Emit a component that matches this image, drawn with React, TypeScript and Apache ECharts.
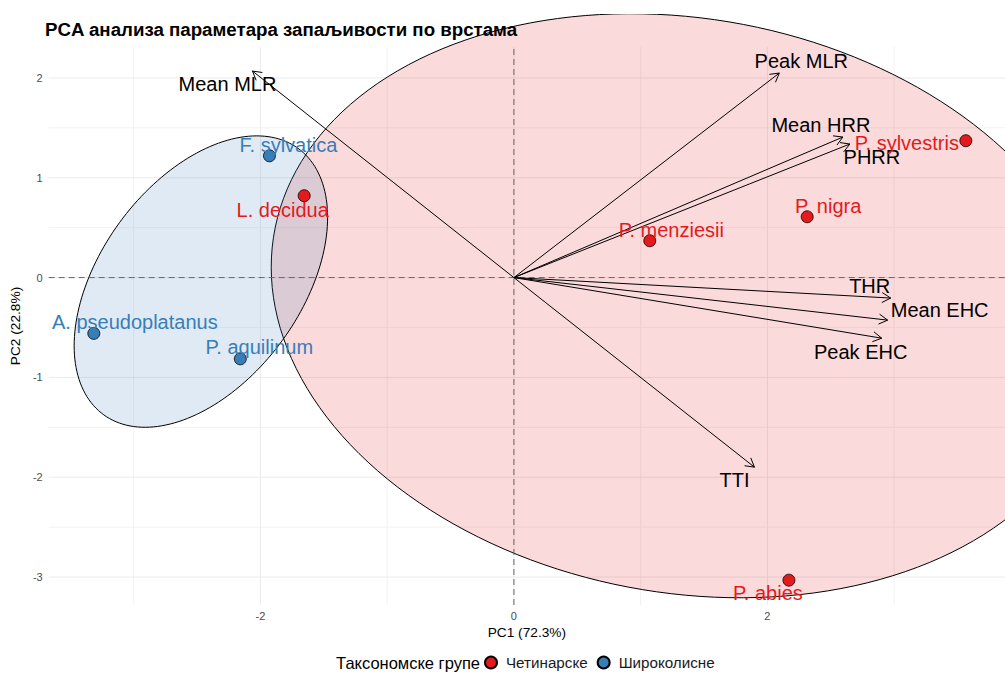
import React, { useEffect, useRef } from "react";
import * as echarts from "echarts";

const chartTitle = "PCA анализа параметара запаљивости по врстама";
const xAxisTitle = "PC1 (72.3%)";
const yAxisTitle = "PC2 (22.8%)";
const legendTitle = "Таксономске групе";
const groupNames = ["Четинарске", "Широколисне"];
const groupColors = ["#E41A1C", "#377EB8"];
const groupFills = ["rgba(228,26,28,0.16)", "rgba(55,126,184,0.16)"];

// Scores (species)
const coniferNames = ["P. sylvestris", "P. nigra", "P. menziesii", "L. decidua", "P. abies"];
const coniferPC1 = [3.566, 2.314, 1.072, -1.655, 2.17];
const coniferPC2 = [1.371, 0.609, 0.369, 0.82, -3.031];
const broadleafNames = ["F. sylvatica", "A. pseudoplatanus", "P. aquilinum"];
const broadleafPC1 = [-1.929, -3.315, -2.159];
const broadleafPC2 = [1.22, -0.559, -0.814];

// Loadings (variables)
const variableNames = ["Mean MLR", "Peak MLR", "Mean HRR", "PHRR", "THR", "Mean EHC", "Peak EHC", "TTI"];
const loadingPC1 = [-2.063, 2.094, 2.596, 2.651, 2.973, 2.949, 2.902, 1.898];
const loadingPC2 = [2.069, 2.049, 1.408, 1.338, -0.205, -0.426, -0.607, -1.899];

// Group ellipses: centre and two conjugate semi-diameters (data units)
const coniferEllipseCenter = [1.355, -0.282];
const coniferEllipseU = [3.27, -0.386];
const coniferEllipseV = [0, 2.9];
const broadleafEllipseCenter = [-2.47, -0.04];
const broadleafEllipseU = [1.0, 0.644];
const broadleafEllipseV = [0, 1.31];

// Axes
const xMin = -3.671;
const xMax = 3.875;
const yMin = -3.28;
const yMax = 2.31;
const xTicks = [-2, 0, 2];
const yTicks = [-3, -2, -1, 0, 1, 2];
const xMajorGrid = [-2, 0, 2];
const xMinorGrid = [-3, -1, 1, 3];
const yMajorGrid = [-3, -2, -1, 0, 1, 2];
const yMinorGrid = [-2.5, -1.5, -0.5, 0.5, 1.5];

// Label offsets in pixels (repelled label placement)
const coniferLabelOffsets = [[-59, 2], [21, -11], [21.5, -11], [-21.5, 14.5], [-21, 13]];
const broadleafLabelOffsets = [[19, -11], [41, -11], [19, -11.7]];
const variableLabelOffsets = [[-25, 13], [22, -12], [-22, -12.5], [22, 13], [-21, -12], [52, -10.5], [-21, 13.5], [-20, 13]];

const FONT = '"Liberation Sans", Arial, sans-serif';

function ellipseSeries(center: number[], u: number[], v: number[], fill: string, z: number) {
  return {
    type: "custom",
    coordinateSystem: "cartesian2d",
    silent: true,
    clip: false,
    z,
    data: [[center[0], center[1]]],
    renderItem: (params: any, api: any) => {
      const pts: number[][] = [];
      const n = 180;
      for (let i = 0; i < n; i++) {
        const t = (i / n) * Math.PI * 2;
        const x = center[0] + u[0] * Math.cos(t) + v[0] * Math.sin(t);
        const y = center[1] + u[1] * Math.cos(t) + v[1] * Math.sin(t);
        pts.push(api.coord([x, y]));
      }
      return {
        type: "polygon",
        shape: { points: pts },
        style: { fill, stroke: "#000", lineWidth: 1 },
      };
    },
  };
}

function gridSeries(values: number[], vertical: boolean, color: string, width: number, dash: any, z: number) {
  return {
    type: "custom",
    coordinateSystem: "cartesian2d",
    silent: true,
    clip: false,
    z,
    data: values.map((v) => (vertical ? [v, 0] : [0, v])),
    renderItem: (params: any, api: any) => {
      const v = vertical ? api.value(0) : api.value(1);
      const p1 = vertical ? api.coord([v, yMin]) : api.coord([xMin, v]);
      const p2 = vertical ? api.coord([v, yMax]) : api.coord([xMax, v]);
      return {
        type: "line",
        shape: { x1: p1[0], y1: p1[1], x2: p2[0], y2: p2[1] },
        style: { stroke: color, lineWidth: width, lineDash: dash },
      };
    },
  };
}

export default function App() {
  const ref = useRef<HTMLDivElement>(null);
  useEffect(() => {
    if (!ref.current) return;
    const chart = echarts.init(ref.current, undefined, { renderer: "svg" });

    const arrowData = variableNames.map((nm, i) => [loadingPC1[i], loadingPC2[i], i]);

    const option: any = {
      animation: false,
      backgroundColor: "#fff",
      title: {
        text: chartTitle,
        left: 45,
        top: 20,
        padding: 0,
        z: 1,
        textStyle: { fontFamily: FONT, fontSize: 18.7, fontWeight: "bold", color: "#000" },
      },
      grid: { left: 43, top: 47, width: 962, height: 558, containLabel: false },
      xAxis: {
        type: "value",
        min: xMin,
        max: xMax,
        name: xAxisTitle,
        nameLocation: "middle",
        nameGap: 19,
        nameTextStyle: { fontFamily: FONT, fontSize: 13.7, color: "#000" },
        axisLine: { show: false },
        axisTick: { show: false },
        splitLine: { show: false },
        axisLabel: {
          customValues: xTicks,
          fontFamily: FONT,
          fontSize: 11,
          color: "#4D4D4D",
          margin: 5,
          formatter: (v: number) => String(v),
        },
      },
      yAxis: {
        type: "value",
        min: yMin,
        max: yMax,
        name: yAxisTitle,
        nameLocation: "middle",
        nameRotate: 90,
        nameGap: 20,
        nameTextStyle: { fontFamily: FONT, fontSize: 13.7, color: "#000" },
        axisLine: { show: false },
        axisTick: { show: false },
        splitLine: { show: false },
        axisLabel: {
          customValues: yTicks,
          fontFamily: FONT,
          fontSize: 11,
          color: "#4D4D4D",
          margin: 6,
          formatter: (v: number) => String(v),
        },
      },
      legend: {
        data: groupNames.map((n) => ({ name: n, icon: "circle" })),
        left: 484,
        top: 655,
        padding: 0,
        itemWidth: 20,
        itemHeight: 12,
        itemGap: 9,
        textStyle: { fontFamily: FONT, fontSize: 15.2, color: "#1A1A1A" },
        selectedMode: false,
      },
      graphic: [
        { type: "rect", z: 100, shape: { x: 0, y: 0, width: 1005, height: 14 }, style: { fill: "#fff" } },
        {
          type: "text",
          z: 100,
          x: 480,
          y: 663,
          style: {
            text: legendTitle,
            font: `16.5px ${FONT}`,
            fill: "#000",
            align: "right",
            textAlign: "right",
            verticalAlign: "middle",
            textVerticalAlign: "middle",
          },
        },
      ],
      series: [
        gridSeries(xMinorGrid, true, "#F2F2F2", 1, null, 0),
        gridSeries(yMinorGrid, false, "#F2F2F2", 1, null, 0),
        gridSeries(xMajorGrid, true, "#EBEBEB", 1, null, 0),
        gridSeries(yMajorGrid, false, "#EBEBEB", 1, null, 0),
        ellipseSeries(coniferEllipseCenter, coniferEllipseU, coniferEllipseV, groupFills[0], 1),
        ellipseSeries(broadleafEllipseCenter, broadleafEllipseU, broadleafEllipseV, groupFills[1], 1),
        gridSeries([0], true, "#666", 1, [6, 4], 2),
        gridSeries([0], false, "#666", 1, [6, 4], 2),
        {
          type: "custom",
          coordinateSystem: "cartesian2d",
          silent: true,
          clip: false,
          z: 3,
          data: arrowData,
          renderItem: (params: any, api: any) => {
            const i = params.dataIndex;
            const o = api.coord([0, 0]);
            const t = api.coord([api.value(0), api.value(1)]);
            const ang = Math.atan2(t[1] - o[1], t[0] - o[0]);
            const L = 10;
            const a = Math.PI / 6;
            const h1 = [t[0] - L * Math.cos(ang - a), t[1] - L * Math.sin(ang - a)];
            const h2 = [t[0] - L * Math.cos(ang + a), t[1] - L * Math.sin(ang + a)];
            const off = variableLabelOffsets[i];
            return {
              type: "group",
              children: [
                { type: "line", shape: { x1: o[0], y1: o[1], x2: t[0], y2: t[1] }, style: { stroke: "#000", lineWidth: 1 } },
                { type: "polyline", shape: { points: [h1, t, h2] }, style: { stroke: "#000", lineWidth: 1, fill: null } },
                {
                  type: "text",
                  x: t[0] + off[0],
                  y: t[1] + off[1],
                  style: {
                    text: variableNames[i],
                    fill: "#000",
                    font: `20px ${FONT}`,
                    align: "center",
                    verticalAlign: "middle",
                  },
                },
              ],
            };
          },
        },
        {
          name: groupNames[0],
          type: "scatter",
          z: 4,
          symbol: "circle",
          symbolSize: 12,
          itemStyle: { color: groupColors[0], borderColor: "#000", borderWidth: 0.8, opacity: 1 },
          data: coniferNames.map((n, i) => ({
            name: n,
            value: [coniferPC1[i], coniferPC2[i]],
            label: { offset: coniferLabelOffsets[i] },
          })),
          label: {
            show: true,
            position: "inside",
            formatter: "{b}",
            fontFamily: FONT,
            fontSize: 20,
            color: groupColors[0],
            opacity: 1,
          },
        },
        {
          name: groupNames[1],
          type: "scatter",
          z: 4,
          symbol: "circle",
          symbolSize: 12,
          itemStyle: { color: groupColors[1], borderColor: "#000", borderWidth: 0.8, opacity: 1 },
          data: broadleafNames.map((n, i) => ({
            name: n,
            value: [broadleafPC1[i], broadleafPC2[i]],
            label: { offset: broadleafLabelOffsets[i] },
          })),
          label: {
            show: true,
            position: "inside",
            formatter: "{b}",
            fontFamily: FONT,
            fontSize: 20,
            color: groupColors[1],
            opacity: 1,
          },
        },
      ],
    };
    chart.setOption(option);
    return () => chart.dispose();
  }, []);
  return <div ref={ref} style={{ position: "absolute", left: 0, top: 0, width: 1005, height: 673 }} />;
}
